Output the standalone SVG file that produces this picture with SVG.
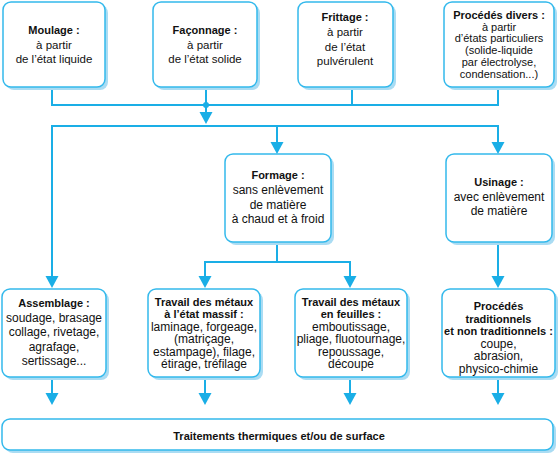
<svg xmlns="http://www.w3.org/2000/svg" width="558" height="454" viewBox="0 0 558 454">
<style>
.sh{fill:#aadcf3;stroke:none}
.bx{fill:#ffffff;stroke:#33b9ec;stroke-width:1.5}
text{font-family:"Liberation Sans",Arial,sans-serif;fill:#111111;text-anchor:middle}
.t{font-size:11px;font-weight:bold}
.r{font-size:11.5px}
.s{font-size:11px}
.m{font-size:12px}
.ln{fill:none;stroke:#1aaee6;stroke-width:2}
.ah{fill:#1aaee6;stroke:none}
</style>
<defs>
<path id="arr" d="M-6.5,-12 L6.5,-12 L0,0 Z"/>
</defs>
<rect width="558" height="454" fill="#ffffff"/>

<g id="connectors">
<path class="ln" d="M52,87 V105 H498 V87 M206,87 V105 M352,87 V105 M206,105 V114"/>
<circle class="ah" cx="206" cy="105" r="3"/>
<use href="#arr" class="ah" x="206" y="124"/>
<path class="ln" d="M52,279 V126 H498 V144 M277,126 V144"/>
<use href="#arr" class="ah" x="52" y="288"/>
<use href="#arr" class="ah" x="277" y="154"/>
<use href="#arr" class="ah" x="498" y="154"/>
<path class="ln" d="M277,242 V262 M205,279 V262 H350 V279"/>
<use href="#arr" class="ah" x="205" y="288"/>
<use href="#arr" class="ah" x="350" y="288"/>
<path class="ln" d="M498,242 V279"/>
<use href="#arr" class="ah" x="498" y="288"/>
<path class="ln" d="M52,377 V395 M205,377 V395 M350,377 V395 M498,377 V395"/>
<use href="#arr" class="ah" x="52" y="405"/>
<use href="#arr" class="ah" x="205" y="405"/>
<use href="#arr" class="ah" x="350" y="405"/>
<use href="#arr" class="ah" x="498" y="405"/>
</g>

<g id="moulage">
<rect class="sh" x="6" y="5" width="102" height="85" rx="8"/>
<rect class="bx" x="3" y="2" width="102" height="85" rx="8"/>
<text class="t" x="54" y="34">Moulage :</text>
<text class="r" x="54" y="48.5">à partir</text>
<text class="r" x="54" y="63">de l’état liquide</text>
</g>

<g id="faconnage">
<rect class="sh" x="156" y="5" width="104" height="85" rx="8"/>
<rect class="bx" x="153" y="2" width="104" height="85" rx="8"/>
<text class="t" x="205" y="34">Façonnage :</text>
<text class="r" x="205" y="48.5">à partir</text>
<text class="r" x="205" y="63">de l’état solide</text>
</g>

<g id="frittage">
<rect class="sh" x="301" y="5" width="95" height="85" rx="8"/>
<rect class="bx" x="298" y="2" width="95" height="85" rx="8"/>
<text class="t" x="345" y="21">Frittage :</text>
<text class="r" x="345" y="36">à partir</text>
<text class="r" x="345" y="50.5">de l’état</text>
<text class="r" x="345" y="65">pulvérulent</text>
</g>

<g id="divers">
<rect class="sh" x="447" y="5" width="110" height="85" rx="8"/>
<rect class="bx" x="444" y="2" width="110" height="85" rx="8"/>
<text class="t" x="499" y="18.5">Procédés divers :</text>
<text class="s" x="499" y="30.5">à partir</text>
<text class="s" x="499" y="42.3">d’états particuliers</text>
<text class="s" x="499" y="54.1">(solide-liquide</text>
<text class="s" x="499" y="65.9">par électrolyse,</text>
<text class="s" x="499" y="77.7">condensation...)</text>
</g>

<g id="formage">
<rect class="sh" x="228" y="157" width="106" height="88" rx="8"/>
<rect class="bx" x="225" y="154" width="106" height="88" rx="8"/>
<text class="t" x="278" y="179">Formage :</text>
<text class="m" x="278" y="194">sans enlèvement</text>
<text class="m" x="278" y="209">de matière</text>
<text class="m" x="278" y="223">à chaud et à froid</text>
</g>

<g id="usinage">
<rect class="sh" x="449" y="157" width="106" height="88" rx="8"/>
<rect class="bx" x="446" y="154" width="106" height="88" rx="8"/>
<text class="t" x="499" y="186">Usinage :</text>
<text class="m" x="499" y="200.5">avec enlèvement</text>
<text class="m" x="499" y="214.5">de matière</text>
</g>

<g id="assemblage">
<rect class="sh" x="5" y="292" width="104" height="88" rx="8"/>
<rect class="bx" x="2" y="289" width="104" height="88" rx="8"/>
<text class="t" x="54" y="307">Assemblage :</text>
<text class="m" x="54" y="322">soudage, brasage</text>
<text class="m" x="54" y="336">collage, rivetage,</text>
<text class="m" x="54" y="351">agrafage,</text>
<text class="m" x="54" y="365">sertissage...</text>
</g>

<g id="massif">
<rect class="sh" x="151" y="292" width="112" height="88" rx="8"/>
<rect class="bx" x="148" y="289" width="112" height="88" rx="8"/>
<text class="t" x="204" y="305.5">Travail des métaux</text>
<text class="t" x="204" y="318">à l’état massif :</text>
<text class="m" x="204" y="330.5">laminage, forgeage,</text>
<text class="m" x="204" y="343">(matriçage,</text>
<text class="m" x="204" y="355.5">estampage), filage,</text>
<text class="m" x="204" y="368">étirage, tréfilage</text>
</g>

<g id="feuilles">
<rect class="sh" x="298" y="292" width="112" height="88" rx="8"/>
<rect class="bx" x="295" y="289" width="112" height="88" rx="8"/>
<text class="t" x="351" y="305.5">Travail des métaux</text>
<text class="t" x="351" y="318">en feuilles :</text>
<text class="m" x="351" y="330.5">emboutissage,</text>
<text class="m" x="351" y="343">pliage, fluotournage,</text>
<text class="m" x="351" y="355.5">repoussage,</text>
<text class="m" x="351" y="368">découpe</text>
</g>

<g id="traditionnels">
<rect class="sh" x="445" y="292" width="113" height="88" rx="8"/>
<rect class="bx" x="442" y="289" width="113" height="88" rx="8"/>
<text class="t" x="498.5" y="310">Procédés</text>
<text class="t" x="498.5" y="322.5">traditionnels</text>
<text class="t" x="498.5" y="335">et non traditionnels :</text>
<text class="m" x="498.5" y="347.5">coupe,</text>
<text class="m" x="498.5" y="360">abrasion,</text>
<text class="m" x="498.5" y="372.5">physico-chimie</text>
</g>

<g id="traitements">
<rect class="sh" x="5" y="422" width="551" height="31" rx="8"/>
<rect class="bx" x="2" y="419" width="551" height="31" rx="8"/>
<text class="t" x="279" y="440">Traitements thermiques et/ou de surface</text>
</g>
</svg>
